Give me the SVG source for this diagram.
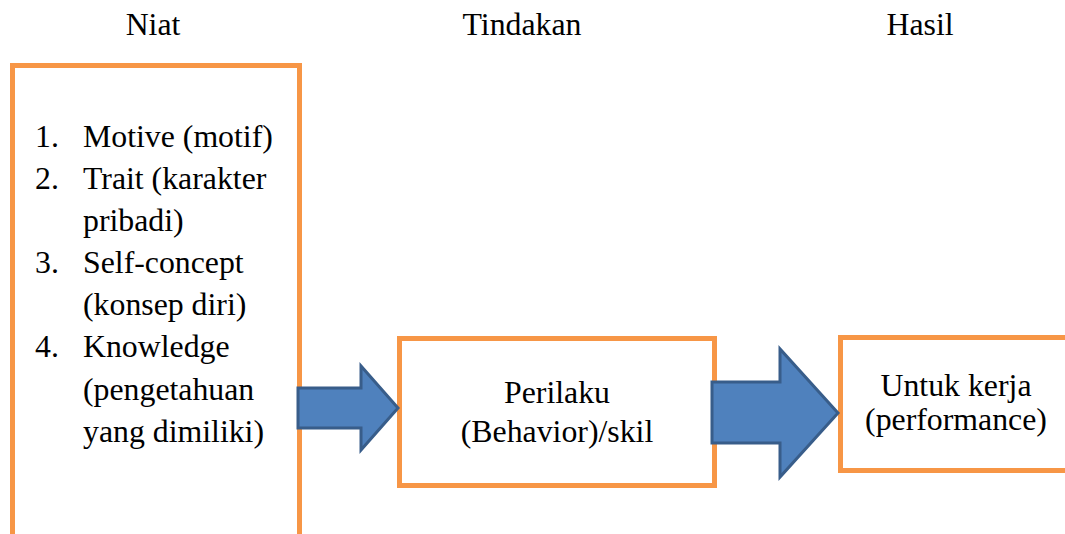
<svg xmlns="http://www.w3.org/2000/svg" width="1065" height="534" viewBox="0 0 1065 534">
<style>
.box{fill:#fff;stroke:#F79646;stroke-width:5;}
.arr{fill:#4F81BD;stroke:#385D8A;stroke-width:3;stroke-linejoin:miter;}
.t{font-family:'Liberation Serif','Times New Roman',Times,'DejaVu Serif',serif;font-size:31.8px;fill:#000;}
.c{text-anchor:middle;}
</style>
<rect width="1065" height="534" fill="#fff"/>
<g id="titles" class="t">
<text class="c" x="153" y="35">Niat</text>
<text class="c" x="522" y="35">Tindakan</text>
<text class="c" x="920" y="35">Hasil</text>
</g>
<g id="node-niat">
<rect class="box" x="12.5" y="65.5" width="287" height="500"/>
<g class="t">
<text x="35" y="147">1.</text><text x="83" y="147">Motive (motif)</text>
<text x="35" y="189">2.</text><text x="83" y="189">Trait (karakter</text>
<text x="83" y="231">pribadi)</text>
<text x="35" y="273">3.</text><text x="83" y="273">Self-concept</text>
<text x="83" y="315">(konsep diri)</text>
<text x="35" y="357">4.</text><text x="83" y="357">Knowledge</text>
<text x="83" y="400">(pengetahuan</text>
<text x="83" y="442">yang dimiliki)</text>
</g>
</g>
<g id="node-tindakan">
<rect class="box" x="399.5" y="338.5" width="315" height="147"/>
<g class="t">
<text class="c" x="557" y="403">Perilaku</text>
<text class="c" x="557" y="442">(Behavior)/skil</text>
</g>
</g>
<g id="node-hasil">
<rect class="box" x="840.5" y="337.5" width="240" height="133"/>
<g class="t">
<text class="c" x="956" y="396">Untuk kerja</text>
<text class="c" x="956" y="430">(performance)</text>
</g>
</g>
<g id="connectors">
<polygon class="arr" points="298,388 361,388 361,366 398,408 361,450 361,428 298,428"/>
<polygon class="arr" points="712,382 780,382 780,349 838,413 780,477 780,443 712,443"/>
</g>
</svg>
